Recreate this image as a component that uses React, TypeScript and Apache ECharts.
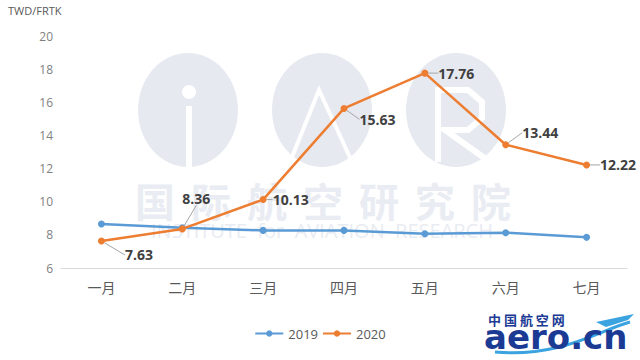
import React, { useEffect, useRef } from "react";
import * as echarts from "echarts";

const months = ["一月", "二月", "三月", "四月", "五月", "六月", "七月"];
const values2019 = [8.66, 8.43, 8.27, 8.27, 8.07, 8.13, 7.85];
const values2020 = [7.63, 8.36, 10.13, 15.63, 17.76, 13.44, 12.22];
const seriesNames = ["2019", "2020"];
const yTicks = { min: 6, max: 20, interval: 2 };
const unitLabel = "TWD/FRTK";
const watermarkChars = ["国", "际", "航", "空", "研", "究", "院"];

// per-point label offsets for 2020 (Excel-style callouts)
const labelShift: [number, number][] = [
  [14, 14],
  [14, -14],
  [0, 0],
  [6, 11],
  [4, 0],
  [7, -12],
  [4, 0],
];
const labelPos = ["right", "top", "right", "right", "right", "right", "right"];

export default function App() {
  const ref = useRef<HTMLDivElement>(null);
  useEffect(() => {
    if (!ref.current) return;
    const chart = echarts.init(ref.current, null, { renderer: "svg" });
    const wm = "#e6e9f0";
    const wmText = "#e9ecf2";
    chart.setOption({
      animation: false,
      backgroundColor: "#ffffff",
      textStyle: { fontFamily: "'Open Sans', 'Noto Sans CJK SC', sans-serif" },
      grid: { left: 61, right: 13, top: 36, bottom: 92, containLabel: false },
      legend: {
        bottom: 15,
        left: "center",
        itemWidth: 28,
        itemHeight: 8,
        itemGap: 4,
        textStyle: { color: "#595959", fontSize: 13 },
        data: seriesNames,
      },
      graphic: [
        {
          type: "text",
          left: 8,
          top: 5,
          style: { text: unitLabel, fill: "#595959", fontSize: 11, fontFamily: "'Open Sans', sans-serif" },
        },
        // IAR watermark
        { type: "ellipse", z: 0, shape: { cx: 188, cy: 110, rx: 50, ry: 57 }, style: { fill: wm } },
        { type: "ellipse", z: 0, shape: { cx: 322, cy: 110, rx: 50, ry: 57 }, style: { fill: wm } },
        { type: "ellipse", z: 0, shape: { cx: 456, cy: 110, rx: 50, ry: 57 }, style: { fill: wm } },
        { type: "circle", z: 0, shape: { cx: 189, cy: 92, r: 7 }, style: { fill: "#fff" } },
        { type: "rect", z: 0, shape: { x: 186, y: 106, width: 6, height: 61 }, style: { fill: "#fff" } },
        {
          type: "polyline",
          z: 0,
          shape: { points: [[290, 162], [319, 90], [352, 162]] },
          style: { stroke: "#fff", lineWidth: 4, fill: "none" },
        },
        {
          type: "polyline",
          z: 0,
          shape: { points: [[438, 162], [438, 90], [468, 90], [482, 102], [482, 118], [468, 130], [445, 130], [490, 162]] },
          style: { stroke: "#fff", lineWidth: 6, fill: "none" },
        },
        ...watermarkChars.map((c, i) => ({
          type: "text",
          z: 0,
          x: 155 + i * 56,
          y: 200,
          style: {
            text: c,
            fill: wmText,
            fontSize: 40,
            fontWeight: "bold",
            align: "center",
            verticalAlign: "middle",
            fontFamily: "'Noto Sans CJK SC', sans-serif",
          },
        })),
        {
          type: "text",
          z: 0,
          x: 322,
          y: 230,
          style: {
            text: "INSTITUTE  for  AVIATION  RESEARCH",
            fill: wmText,
            fontSize: 20,
            align: "center",
            verticalAlign: "middle",
            fontFamily: "'Open Sans', sans-serif",
          },
        },
        // aero.cn logo
        {
          type: "text",
          z: 10,
          x: 488,
          y: 312,
          style: {
            text: "中 国 航 空 网",
            fill: "#1b3a94",
            fontSize: 13,
            fontWeight: "bold",
            lineHeight: 14,
            fontFamily: "'Noto Sans CJK SC', sans-serif",
          },
        },
        {
          type: "bezierCurve",
          z: 10,
          shape: { x1: 495, y1: 352, x2: 630, y2: 322, cpx1: 560, cpy1: 358, cpx2: 600, cpy2: 330 },
          style: { stroke: "#3aa3e0", lineWidth: 3, fill: "none" },
        },
        {
          type: "polygon",
          z: 10,
          shape: { points: [[596, 322], [634, 314], [628, 320], [606, 327]] },
          style: { fill: "#3aa3e0" },
        },
        {
          type: "text",
          z: 10,
          x: 484,
          y: 337,
          style: {
            text: "aero.cn",
            fill: "#1b3a94",
            fontSize: 34,
            fontWeight: "bold",
            lineHeight: 22,
            verticalAlign: "middle",
            fontFamily: "'DejaVu Sans', sans-serif",
          },
        },
      ],
      xAxis: {
        type: "category",
        data: months,
        boundaryGap: true,
        axisLine: { lineStyle: { color: "#d9d9d9", width: 1 } },
        axisTick: { show: false },
        axisLabel: { color: "#595959", fontSize: 14, margin: 12, fontFamily: "'Noto Sans CJK SC', sans-serif" },
        splitLine: { show: false },
      },
      yAxis: {
        type: "value",
        min: yTicks.min,
        max: yTicks.max,
        interval: yTicks.interval,
        axisLine: { show: false },
        axisTick: { show: false },
        splitLine: { show: false },
        axisLabel: { color: "#7f7f7f", fontSize: 12, margin: 8 },
      },
      series: [
        {
          name: seriesNames[0],
          type: "line",
          data: values2019,
          z: 3,
          symbol: "circle",
          symbolSize: 7,
          itemStyle: { color: "#5b9bd5" },
          lineStyle: { color: "#5b9bd5", width: 2.5 },
        },
        {
          name: seriesNames[1],
          type: "line",
          data: values2020.map((v, i) => ({
            value: v,
            label: { position: labelPos[i] as any },
          })),
          z: 4,
          symbol: "circle",
          symbolSize: 7,
          itemStyle: { color: "#ed7d31" },
          lineStyle: { color: "#ed7d31", width: 2.5 },
          label: {
            show: true,
            distance: 6,
            color: "#404040",
            fontSize: 14,
            fontWeight: "bold",
            fontFamily: "'Open Sans', sans-serif",
          },
          labelLine: { show: true, lineStyle: { color: "#a6a6a6", width: 1 } },
          labelLayout: (params: any) => {
            const s = labelShift[params.dataIndex] || [0, 0];
            return { dx: s[0], dy: s[1] };
          },
        },
      ],
    });
    return () => chart.dispose();
  }, []);
  return <div ref={ref} style={{ width: 640, height: 360, position: "absolute", left: 0, top: 0 }} />;
}
